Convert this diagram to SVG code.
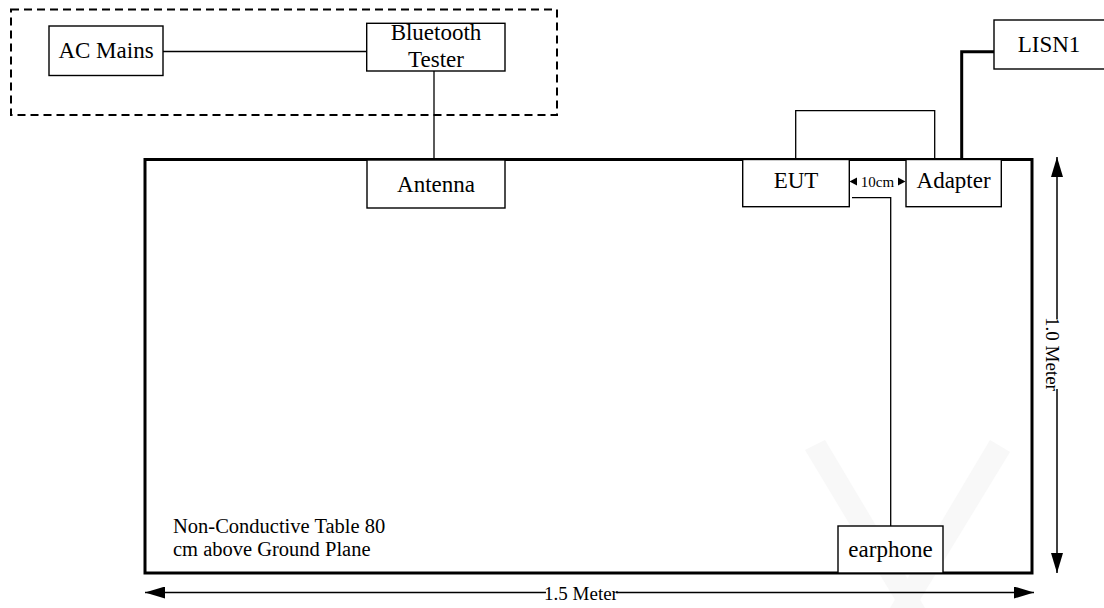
<svg xmlns="http://www.w3.org/2000/svg" width="1104" height="608" viewBox="0 0 1104 608">
<style>
text{font-family:"Liberation Serif","Times New Roman",serif;fill:#000}
.box{fill:#fff;stroke:#000;stroke-width:1.4}
.lbl{font-size:23px;text-anchor:middle}
.wire{fill:none;stroke:#000;stroke-width:1.3}
.thick{fill:none;stroke:#000;stroke-width:3}
.dim{fill:none;stroke:#000;stroke-width:1.5}
.wm{fill:#f8f8f8}
</style>
<defs>
<marker id="ah" markerWidth="20" markerHeight="12" refX="20" refY="6" orient="auto-start-reverse" markerUnits="userSpaceOnUse" viewBox="0 0 20 12">
<path d="M0,0 L20,6 L0,12 Z" fill="#000"/>
</marker>
</defs>
<rect width="1104" height="608" fill="#fff"/>
<g id="watermark">
<polygon class="wm" points="805,450 825,440 925,608 900,608"/>
<polygon class="wm" points="990,440 1010,452 915,608 890,608"/>
</g>
<g id="dashed-group">
<rect x="11" y="9.5" width="546" height="105.5" fill="none" stroke="#000" stroke-width="2" stroke-dasharray="8,5"/>
</g>
<g id="table">
<rect x="145" y="159.5" width="887" height="413.5" fill="none" stroke="#000" stroke-width="3"/>
<text x="173" y="533" font-size="20.5">Non-Conductive Table 80</text>
<text x="173" y="556" font-size="20.5">cm above Ground Plane</text>
</g>
<g id="connectors">
<line class="wire" x1="163" y1="51.5" x2="367" y2="51.5"/>
<line class="wire" x1="434" y1="71" x2="434" y2="160"/>
<polyline class="wire" points="795.7,159 795.7,110.7 934.7,110.7 934.7,159"/>
<polyline class="thick" points="961.7,159 961.7,51.7 994,51.7"/>
<polyline class="wire" points="852,197.7 890.7,197.7 890.7,526"/>
</g>
<g id="ac-mains">
<rect class="box" x="49" y="26" width="114" height="49.5"/>
<text class="lbl" x="106" y="58.3">AC Mains</text>
</g>
<g id="bluetooth-tester">
<rect class="box" x="366.7" y="23.3" width="138.3" height="47.7"/>
<text class="lbl" x="436" y="40" font-size="22">Bluetooth</text>
<text class="lbl" x="436" y="66.5" font-size="22">Tester</text>
</g>
<g id="lisn1">
<rect class="box" x="994" y="20" width="115" height="49"/>
<text class="lbl" x="1049" y="51.7" font-size="21.5">LISN1</text>
</g>
<g id="antenna">
<rect class="box" x="367" y="160" width="138" height="48"/>
<text class="lbl" x="436" y="191.5">Antenna</text>
</g>
<g id="eut">
<rect class="box" x="742.7" y="159.5" width="106.6" height="47.2"/>
<text class="lbl" x="796" y="188">EUT</text>
</g>
<g id="adapter">
<rect class="box" x="906" y="159.5" width="95.3" height="47.2"/>
<text class="lbl" x="953.6" y="188">Adapter</text>
</g>
<g id="earphone">
<rect class="box" x="838" y="526" width="105" height="47"/>
<text class="lbl" x="890.5" y="557">earphone</text>
</g>
<g id="spacing-10cm">
<path d="M849.5,181.5 L857,177.5 L857,185.5 Z M905.5,181.5 L898,177.5 L898,185.5 Z" fill="#000"/>
<text x="877.5" y="187" font-size="15" text-anchor="middle">10cm</text>
</g>
<g id="dimensions">
<line class="dim" x1="1057" y1="157" x2="1057" y2="319" marker-start="url(#ah)"/>
<line class="dim" x1="1057" y1="389" x2="1057" y2="573" marker-end="url(#ah)"/>
<text transform="translate(1052,354) rotate(90)" font-size="19" text-anchor="middle" dominant-baseline="central">1.0 Meter</text>
<line class="dim" x1="145" y1="592.5" x2="546" y2="592.5" marker-start="url(#ah)"/>
<line class="dim" x1="616" y1="592.5" x2="1034" y2="592.5" marker-end="url(#ah)"/>
<text x="581" y="599.5" font-size="19" text-anchor="middle">1.5 Meter</text>
</g>
</svg>
